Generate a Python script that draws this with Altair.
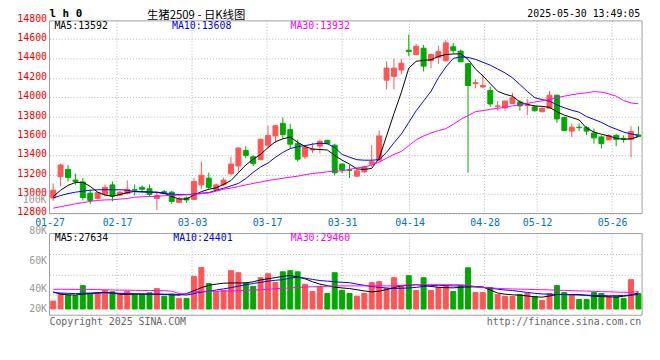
import altair as alt
import pandas as pd

MONO = "DejaVu Sans Mono"
CJK = "Noto Sans CJK SC"
RED = "#ff5555"
GREEN = "#00a800"
GRID = "#b4b4b4"
BORDER = "#a0a0a0"

dates = [
    "01-27",
    "02-05", "02-06", "02-07",
    "02-10", "02-11", "02-12", "02-13", "02-14",
    "02-17", "02-18", "02-19", "02-20", "02-21",
    "02-24", "02-25", "02-26", "02-27", "02-28",
    "03-03", "03-04", "03-05", "03-06", "03-07",
    "03-10", "03-11", "03-12", "03-13", "03-14",
    "03-17", "03-18", "03-19", "03-20", "03-21",
    "03-24", "03-25", "03-26", "03-27", "03-28",
    "03-31", "04-01", "04-02", "04-03",
    "04-07", "04-08", "04-09", "04-10", "04-11",
    "04-14", "04-15", "04-16", "04-17", "04-18",
    "04-21", "04-22", "04-23", "04-24", "04-25",
    "04-28", "04-29", "04-30",
    "05-06", "05-07", "05-08", "05-09",
    "05-12", "05-13", "05-14", "05-15", "05-16",
    "05-19", "05-20", "05-21", "05-22", "05-23",
    "05-26", "05-27", "05-28", "05-29", "05-30",
]

opens = [12960, 13180, 13255, 13145, 13125, 13010, 12955, 12995, 13095, 12990,
         13005, 13045, 13070, 13055, 12955, 13025, 13020, 12915, 12960, 12945,
         13095, 13165, 13045, 13095, 13210, 13290, 13450, 13385, 13355, 13505,
         13600, 13730, 13665, 13520, 13385, 13455, 13495, 13555, 13505, 13310,
         13250, 13185, 13230, 13310, 13350, 14175, 14215, 14280, 14485, 14440,
         14505, 14375, 14410, 14375, 14520, 14475, 14345, 14140, 14105, 14070,
         13905, 13890, 13935, 13950, 13915, 13900, 13850, 13885, 14020, 13790,
         13650, 13690, 13685, 13630, 13590, 13560, 13605, 13575, 13565, 13610]
highs = [13110, 13315, 13300, 13210, 13165, 13045, 13025, 13100, 13130, 13030,
         13140, 13100, 13090, 13100, 13025, 13045, 13035, 12970, 12975, 13165,
         13335, 13220, 13110, 13170, 13385, 13485, 13495, 13400, 13570, 13705,
         13710, 13790, 13725, 13560, 13500, 13530, 13560, 13560, 13520, 13315,
         13300, 13260, 13295, 13505, 13655, 14370, 14395, 14395, 14645, 14545,
         14540, 14450, 14530, 14590, 14560, 14490, 14350, 14185, 14235, 14110,
         13960, 13960, 14045, 13970, 13980, 13915, 13900, 14065, 14025, 13800,
         13730, 13730, 13700, 13675, 13605, 13620, 13620, 13605, 13700, 13700]
lows = [12930, 13080, 13130, 13095, 12935, 12900, 12945, 12975, 12925, 12985,
        13000, 12985, 13020, 12975, 12835, 13000, 12900, 12910, 12910, 12940,
        13050, 13050, 13040, 13080, 13195, 13230, 13370, 13290, 13350, 13470,
        13525, 13570, 13470, 13335, 13360, 13425, 13420, 13515, 13195, 13215,
        13165, 13175, 13215, 13280, 13335, 14080, 14080, 14235, 14425, 14430,
        14265, 14300, 14345, 14370, 14450, 14360, 13220, 14090, 14090, 13900,
        13860, 13860, 13930, 13860, 13815, 13850, 13845, 13885, 13735, 13650,
        13590, 13650, 13610, 13520, 13470, 13555, 13495, 13530, 13380, 13590]
closes = [13040, 13300, 13170, 13130, 12965, 12935, 13015, 13070, 12980, 13020,
          13050, 13040, 13050, 12995, 12985, 13010, 12925, 12950, 12940, 13130,
          13195, 13070, 13095, 13145, 13310, 13475, 13400, 13315, 13565, 13605,
          13705, 13615, 13515, 13360, 13485, 13460, 13545, 13520, 13220, 13250,
          13245, 13240, 13280, 13335, 13600, 14300, 14300, 14350, 14470, 14525,
          14320, 14440, 14470, 14560, 14480, 14365, 14120, 14150, 14120, 13930,
          13910, 13960, 13995, 13910, 13920, 13860, 13885, 14020, 13775, 13655,
          13690, 13685, 13650, 13580, 13520, 13605, 13565, 13570, 13645, 13595]

ma5 = [12975, 13040, 13090, 13120, 13122, 13080, 13020, 12990, 12978, 12995,
       13015, 13028, 13025, 13022, 13020, 13010, 12975, 12950, 12950, 12990,
       13025, 13050, 13065, 13100, 13140, 13220, 13300, 13360, 13410, 13480,
       13540, 13570, 13588, 13535, 13490, 13465, 13460, 13455, 13400, 13350,
       13310, 13260, 13255, 13265, 13370, 13600, 13830, 14050, 14300, 14370,
       14380, 14385, 14420, 14440, 14445, 14448, 14390, 14290, 14220, 14140,
       14060, 14030, 14010, 13950, 13925, 13910, 13905, 13895, 13850, 13815,
       13790, 13765, 13680, 13640, 13618, 13600, 13575, 13565, 13570, 13592]
ma10 = [12960, 12985, 13005, 13020, 13030, 13040, 13045, 13045, 13045, 13045,
        13040, 13025, 13022, 13020, 13018, 13005, 13000, 12995, 12995, 13000,
        13010, 13015, 13040, 13060, 13085, 13110, 13160, 13225, 13280, 13320,
        13380, 13430, 13470, 13490, 13500, 13515, 13525, 13520, 13480, 13410,
        13380, 13355, 13350, 13350, 13355, 13430, 13530, 13620, 13740, 13860,
        13960, 14060, 14200, 14310, 14400, 14415, 14410, 14390, 14360, 14330,
        14290, 14250, 14200, 14130, 14060, 13995, 13975, 13960, 13920, 13890,
        13865, 13845, 13800, 13770, 13740, 13700, 13670, 13640, 13620, 13608]
ma30 = [12855, 12870, 12885, 12900, 12912, 12925, 12935, 12940, 12942, 12948,
        12955, 12968, 12972, 12975, 12978, 12983, 12987, 12990, 12993, 12998,
        13005, 13012, 13030, 13050, 13062, 13078, 13095, 13110, 13125, 13140,
        13152, 13163, 13175, 13185, 13200, 13212, 13220, 13230, 13237, 13240,
        13255, 13270, 13280, 13300, 13330, 13370, 13410, 13440, 13500, 13560,
        13600, 13630, 13655, 13675, 13720, 13770, 13810, 13850, 13862, 13875,
        13885, 13895, 13910, 13920, 13935, 13950, 13962, 13975, 13995, 14010,
        14025, 14036, 14045, 14057, 14052, 14035, 14010, 13965, 13940, 13932]

vols = [13.3, 26.1, 23.4, 22.3, 39.4, 26.1, 27.9, 31.6, 29.0, 26.1,
        30.0, 25.0, 25.0, 27.3, 34.5, 21.6, 25.0, 17.9, 17.9, 55.0,
        70.0, 42.8, 29.0, 31.6, 64.6, 61.2, 44.0, 38.3, 52.8, 59.5,
        44.9, 62.8, 64.6, 62.8, 41.7, 29.5, 37.3, 26.1, 61.2, 31.6,
        26.1, 21.6, 26.1, 44.5, 46.1, 34.5, 52.8, 37.9, 56.2, 31.2,
        52.8, 31.2, 36.2, 39.0, 29.5, 39.0, 69.5, 27.9, 27.9, 36.2,
        24.5, 21.1, 21.1, 24.5, 26.1, 21.1, 14.5, 26.1, 39.4, 27.9,
        24.5, 16.1, 16.1, 27.9, 26.1, 21.1, 21.1, 17.9, 49.5, 26.1]
vma5 = [29, 25, 24, 23.5, 25, 26, 27, 28, 27, 25,
        24.5, 25, 25, 25, 25, 24.5, 24, 23.3, 26, 31,
        36, 40, 42, 43.5, 44, 44, 44, 46, 49, 51,
        53, 55, 56.7, 54, 51, 46, 42, 39.5, 37, 35.5,
        34.5, 32.5, 30.5, 29, 30, 32.8, 36, 39, 40, 41,
        40, 38, 36.7, 36, 35.7, 36.5, 37.3, 37.3, 37.3, 32,
        27, 25, 24, 23.3, 22, 20.5, 20, 22, 24.5, 24.5,
        24.5, 24.5, 23, 21.5, 21, 20.5, 20, 21.5, 23.3, 27.6]
vma10 = [27.8, 27, 26.5, 26, 26.5, 27, 27.3, 27.3, 27, 26.5,
         26, 25.8, 25.5, 25.3, 25, 25, 25, 24.5, 23.5, 26,
         28.5, 30, 32, 34, 36, 38.5, 41, 43, 45, 47,
         48.5, 49.5, 52, 54, 52, 50, 48, 47, 46, 45,
         44.5, 42, 40, 38, 36.5, 35.5, 34.5, 35, 35.5, 36.5,
         38, 39.5, 40, 39.5, 39, 39, 39, 38, 36.5, 35,
         33.5, 32, 31.2, 29.5, 28, 26.5, 25.5, 25, 24.5, 24.3,
         24, 23.5, 23.3, 23, 22.8, 22.3, 22.5, 22.8, 23.5, 24.4]
vma30 = [33.3, 33.3, 33.2, 33.1, 33, 33, 32.8, 32.5, 32.2, 32,
         31.8, 31.5, 31.3, 31.2, 31, 31, 30, 26, 25.5, 29,
         29.5, 30, 30, 30.2, 30.5, 31, 31.5, 32, 32.5, 33.3,
         34, 35, 35.5, 36.5, 37, 37.5, 38, 38.3, 38.8, 39,
         39, 39, 39, 39, 39, 39, 39, 40, 40.5, 41,
         41, 41, 41, 41, 41, 41, 40, 37.3, 36, 35.5,
         34.8, 34.2, 33.8, 33.5, 33.2, 32.8, 32.5, 32.2, 31.8, 31.3,
         31, 30.5, 30.2, 29.8, 29.3, 29, 28.6, 28.2, 28, 29.5]

tick_dates = ["01-27", "02-17", "03-03", "03-17", "03-31", "04-14", "04-28", "05-12", "05-26"]
price_ticks = [12800, 13000, 13200, 13400, 13600, 13800, 14000, 14200, 14400, 14600, 14800]
vol_labels = ["20K", "40K", "60K", "80K"]
vol_label_at = [1.2, 34.5, 82.3, 127.3]
vol_grid_at = [23.8, 58.3, 92.8]

W, H = 600, 330
P_TOP, P_BOT = 11, 206
V_TOP, V_BOT = 226.3, 309

df = pd.DataFrame({"d": dates, "o": opens, "h": highs, "l": lows, "c": closes,
                   "MA5": ma5, "MA10": ma10, "MA30": ma30, "v": vols,
                   "VMA5": vma5, "VMA10": vma10, "VMA30": vma30})
tick_idx = [dates.index(t) for t in tick_dates]
tdf = pd.DataFrame({"gi": tick_idx})
one = pd.DataFrame({"k": [0]})

band = alt.Scale(domain=dates, paddingInner=1 / 3, paddingOuter=1 / 6)
gscale = alt.Scale(domain=[0, len(dates) - 1], nice=False, zero=False)
pscale = alt.Scale(domain=[12800, 14800], range=[P_BOT, 9.7], zero=False, nice=False)
vscale = alt.Scale(domain=[-10.5, 127.3], range=[V_BOT, V_TOP], zero=False, nice=False)
cscale = alt.Scale(domain=["up", "down"], range=[RED, GREEN])

xb = alt.X("d:O", scale=band, axis=None)

price_axis = alt.Axis(orient="left", values=price_ticks, format="d", grid=True, gridDash=[1, 2],
                      gridColor=GRID,
                      gridOpacity={"condition": {"test": "datum.value >= 14800", "value": 0}, "value": 1},
                      domain=False, ticks=False, labelColor="#ff0000", labelFont=MONO,
                      labelFontSize=10, labelPadding=3, labelFlush=False, labelOffset=-1.5,
                      title=None)

lab_js = "[" + ",".join("'%s'" % t for t in tick_dates) + "]"
idx_js = "[" + ",".join(str(i) for i in tick_idx) + "]"
date_axis = alt.Axis(orient="bottom", values=tick_idx, offset=-(H - P_BOT),
                     labelExpr=lab_js + "[indexof(" + idx_js + ", datum.value)]",
                     grid=False, domain=False, ticks=False, labelFlush=False,
                     labelOverlap=False, labelPadding=4, labelColor="#0070c8",
                     labelFont=MONO, labelFontSize=10, title=None)

vl_expr = " : ".join("datum.value < %g ? '%s'" % (v + 1, s) for v, s in zip(vol_label_at[:-1], vol_labels[:-1])) + " : '%s'" % vol_labels[-1]
vol_axis = alt.Axis(orient="left", values=vol_label_at, labelExpr=vl_expr, grid=False,
                    domain=False, ticks=False, labelColor="#999999", labelFont=MONO,
                    labelFontSize=10, labelPadding=3, labelFlush=False,
                    labelBaseline={"condition": {"test": "datum.value > 100", "value": "alphabetic"},
                                   "value": "middle"},
                    title=None)
vol_grid_axis = alt.Axis(orient="left", values=vol_grid_at, grid=True, gridDash=[1, 2],
                         gridColor=GRID, labels=False, domain=False, ticks=False, title=None)

base = alt.Chart(df).transform_calculate(dir="datum.c >= datum.o ? 'up' : 'down'")

vgrid_p = alt.Chart(tdf).mark_rule(strokeDash=[1, 2], color=GRID).encode(
    x=alt.X("gi:Q", scale=gscale, axis=date_axis), y=alt.value(P_TOP), y2=alt.value(P_BOT))
vgrid_v = alt.Chart(tdf).mark_rule(strokeDash=[1, 2], color=GRID).encode(
    x=alt.X("gi:Q", scale=gscale, axis=None), y=alt.value(V_TOP), y2=alt.value(V_BOT))


def frame(y0, y1):
    return alt.Chart(one).mark_rect(fillOpacity=0, stroke=BORDER, strokeWidth=1).encode(
        x=alt.value(0), x2=alt.value(W), y=alt.value(y0), y2=alt.value(y1))


wicks = base.mark_rule(strokeWidth=1).encode(
    x=xb, y=alt.Y("l:Q", scale=pscale, axis=price_axis), y2="h:Q",
    color=alt.Color("dir:N", scale=cscale, legend=None))
bodies = base.mark_bar(strokeWidth=1).encode(
    x=xb, y=alt.Y("o:Q", scale=pscale, axis=None), y2="c:Q",
    color=alt.Color("dir:N", scale=cscale, legend=None),
    stroke=alt.Stroke("dir:N", scale=cscale, legend=None))
ma_lines = base.transform_fold(["MA5", "MA10", "MA30"], as_=["k", "val"]).mark_line(
    strokeWidth=1).encode(
    x=xb, y=alt.Y("val:Q", scale=pscale, axis=None),
    color=alt.Color("k:N", scale=alt.Scale(domain=["MA5", "MA10", "MA30"],
                                           range=["#000000", "#0000ff", "#ff00ff"]), legend=None))
vbars = base.mark_bar(strokeWidth=1).encode(
    x=xb, y=alt.Y("v:Q", scale=vscale, axis=vol_axis),
    color=alt.Color("dir:N", scale=cscale, legend=None),
    stroke=alt.Stroke("dir:N", scale=cscale, legend=None))
v_lines = base.transform_fold(["VMA5", "VMA10", "VMA30"], as_=["k", "val"]).mark_line(
    strokeWidth=1).encode(
    x=xb, y=alt.Y("val:Q", scale=vscale, axis=vol_grid_axis),
    color=alt.Color("k:N", scale=alt.Scale(domain=["VMA5", "VMA10", "VMA30"],
                                           range=["#000000", "#0000ff", "#ff00ff"]), legend=None))


def label(text, x, y, color="#000000", size=10, align="left", font=MONO, weight="normal"):
    return alt.Chart(one).mark_text(text=text, align=align, baseline="middle", fontSize=size,
                                    font=font, color=color, fontWeight=weight).encode(
        x=alt.value(x), y=alt.value(y))


texts = [
    label("l h 0", 0, 4.5, size=11, weight="bold"),
    label("生猪2509 - 日K线图", 148.5, 6.5, size=11.5, align="center", font=CJK),
    label("2025-05-30 13:49:05", 598, 4.5, align="right"),
    label("MA5:13592", 5, 16.5),
    label("MA10:13608", 124, 16.5, color="#0000ff"),
    label("MA30:13932", 244, 16.5, color="#ff00ff"),
    label("100K", -3, 192.3, color="#999999", align="right"),
    label("MA5:27634", 5.3, 231),
    label("MA10:24401", 125.3, 231, color="#0000ff"),
    label("MA30:29460", 244.3, 231, color="#ff00ff"),
    label("Copyright 2025 SINA.COM", 0, 315.7, color="#666666"),
    label("http://finance.sina.com.cn", 599, 315.7, color="#666666", align="right"),
]

chart = alt.layer(
    vgrid_p, vgrid_v, frame(P_TOP, P_BOT), frame(V_TOP, V_BOT),
    wicks, bodies, ma_lines, vbars, v_lines, *texts
).resolve_scale(
    x="independent", y="independent", color="independent", stroke="independent"
).properties(
    width=W, height=H,
    padding={"left": 42, "top": 0, "right": 10, "bottom": 0},
    autosize=alt.AutoSizeParams(type="none"),
    background="#ffffff",
).configure_view(strokeWidth=0)

chart.save("out.html", embed_options={"renderer": "svg", "actions": False})
